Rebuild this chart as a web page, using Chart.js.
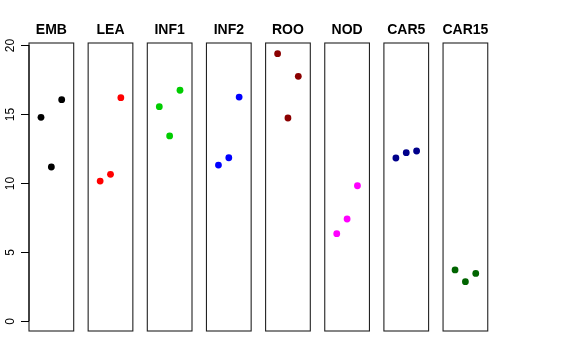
<!DOCTYPE html>
<html>
<head>
<meta charset="utf-8">
<script src="https://cdn.jsdelivr.net/npm/chart.js@4.4.0/dist/chart.umd.min.js"></script>
<style>
html,body{margin:0;padding:0;background:#fff;}
#wrap{position:relative;width:576px;height:360px;}
#wrap canvas{position:absolute;left:0;top:0;}
</style>
</head>
<body>
<div id="wrap"></div>
<script>
const categories = ["EMB","LEA","INF1","INF2","ROO","NOD","CAR5","CAR15"];
const colors = ["#000000","#FF0000","#00CD00","#0000FF","#8B0000","#FF00FF","#00008B","#006400"];
const valuesEMB   = [14.76, 11.16, 16.04];
const valuesLEA   = [10.14, 10.63, 16.18];
const valuesINF1  = [15.53, 13.41, 16.72];
const valuesINF2  = [11.30, 11.83, 16.23];
const valuesROO   = [19.37, 14.71, 17.73];
const valuesNOD   = [6.33, 7.39, 9.80];
const valuesCAR5  = [11.81, 12.20, 12.32];
const valuesCAR15 = [3.70, 2.85, 3.45];
const seriesValues = [valuesEMB, valuesLEA, valuesINF1, valuesINF2, valuesROO, valuesNOD, valuesCAR5, valuesCAR15];
const yTickLabels = [0, 5, 10, 15, 20];

const W = 576, H = 360;
const boxTop = 43, boxBottom = 331;
const firstLeft = 29, pitch = 59.15, boxW = 44.7;
const yMin = -0.725, yMax = 20.145;
const xMin = -0.16, xMax = 4.16;
const FONT = "'Liberation Sans', Arial, Helvetica, sans-serif";

const wrap = document.getElementById('wrap');

categories.forEach((cat, i) => {
  const cv = document.createElement('canvas');
  cv.width = W; cv.height = H;
  cv.style.width = W + 'px'; cv.style.height = H + 'px';
  wrap.appendChild(cv);
  const left = firstLeft + pitch * i;
  const right = W - (left + boxW);

  const panelPlugin = {
    id: 'panel' + i,
    afterDraw(chart) {
      const ctx = chart.ctx;
      const a = chart.chartArea;
      ctx.save();
      ctx.strokeStyle = '#222';
      ctx.lineWidth = 1.1;
      ctx.strokeRect(a.left, a.top, a.right - a.left, a.bottom - a.top);
      ctx.fillStyle = '#000';
      ctx.font = "bold 14px " + FONT;
      ctx.textAlign = 'center';
      ctx.textBaseline = 'alphabetic';
      ctx.fillText(cat, (a.left + a.right) / 2, 34.3);
      if (i === 0) {
        const ys = chart.scales.y;
        const x0 = a.left;
        ctx.strokeStyle = '#000';
        ctx.lineWidth = 1;
        ctx.beginPath();
        ctx.moveTo(x0, ys.getPixelForValue(yTickLabels[0]));
        ctx.lineTo(x0, ys.getPixelForValue(yTickLabels[yTickLabels.length - 1]));
        ctx.stroke();
        ctx.font = "12px " + FONT;
        ctx.fillStyle = '#000';
        yTickLabels.forEach(v => {
          const py = Math.round(ys.getPixelForValue(v)) + 0.5;
          ctx.beginPath();
          ctx.moveTo(x0 - 8, py);
          ctx.lineTo(x0, py);
          ctx.stroke();
          ctx.save();
          ctx.translate(16.5, py);
          ctx.rotate(-Math.PI / 2);
          ctx.textAlign = 'center';
          ctx.textBaseline = 'bottom';
          ctx.fillText(String(v), 0, 0);
          ctx.restore();
        });
      }
      ctx.restore();
    }
  };

  new Chart(cv, {
    type: 'scatter',
    data: {
      datasets: [{
        label: cat,
        data: seriesValues[i].map((v, k) => ({x: k + 1, y: v})),
        backgroundColor: colors[i],
        borderColor: colors[i],
        borderWidth: 0,
        pointRadius: 3.4,
        pointHoverRadius: 3.4
      }]
    },
    options: {
      responsive: false,
      animation: false,
      events: [],
      layout: {padding: {left: left, right: right, top: boxTop, bottom: H - boxBottom}},
      plugins: {legend: {display: false}, tooltip: {enabled: false}, title: {display: false}},
      scales: {
        x: {type: 'linear', min: xMin, max: xMax, display: false},
        y: {type: 'linear', min: yMin, max: yMax, display: false}
      }
    },
    plugins: [panelPlugin]
  });
});
</script>
</body>
</html>
